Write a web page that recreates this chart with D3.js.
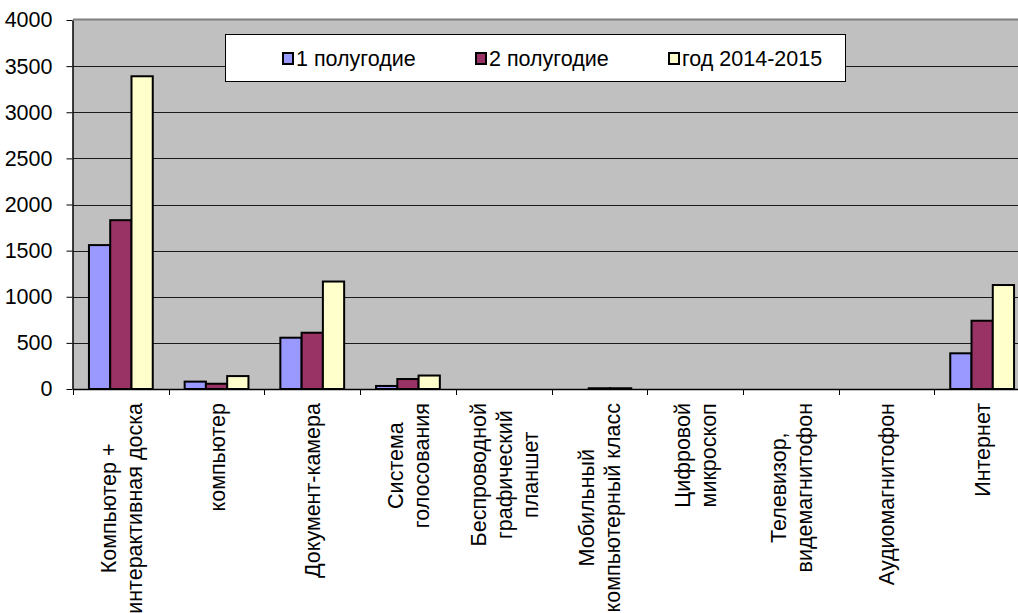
<!DOCTYPE html>
<html>
<head>
<meta charset="utf-8">
<style>
body { margin: 0; background: #fff; }
svg { display: block; font-family: "Liberation Sans", Arial, sans-serif; }
.grid line { stroke: #1a1a1a; stroke-width: 1; }
.axis path, .axis line { stroke: #000; }
.axis text { font-size: 21.5px; fill: #000; font-family: "Liberation Sans", Arial, sans-serif; }
</style>
</head>
<body>
<svg width="1018" height="613"></svg>
<script src="https://d3js.org/d3.v7.min.js"></script>
<script>

// categories (multi-line labels split by |)
var categories = [
  "Компьютер +|интерактивная доска",
  "компьютер",
  "Документ-камера",
  "Система|голосования",
  "Беспроводной|графический|планшет",
  "Мобильный|компьютерный класс",
  "Цифровой|микроскоп",
  "Телевизор,|видемагнитофон",
  "Аудиомагнитофон",
  "Интернет"
];

var seriesNames = ["1 полугодие", "2 полугодие", "год 2014-2015"];
var seriesColors = ["#9999ff", "#993366", "#ffffcc"];

var half1 = [1560, 80, 556, 33, 0, 0, 0, 0, 0, 387];
var half2 = [1830, 57, 610, 108, 0, 8, 0, 0, 0, 740];
var year = [3390, 140, 1165, 146, 0, 8, 0, 0, 0, 1127];

var yTicks = [0, 500, 1000, 1500, 2000, 2500, 3000, 3500, 4000];

var svg = d3.select("svg");
var plotLeft = 73, plotTop = 20, plotBottom = 389, plotRight = 1030;

var x = d3.scaleBand().domain(categories).range([plotLeft, plotRight]);
var w = x.bandwidth() / 4.5;
var xs = d3.scaleBand().domain(seriesNames).range([0.75 * w, 3.75 * w]);
var y = d3.scaleLinear().domain([0, 4000]).range([plotBottom, plotTop]);

// plot background
svg.append("rect")
  .attr("x", plotLeft).attr("y", plotTop)
  .attr("width", plotRight - plotLeft).attr("height", plotBottom - plotTop)
  .attr("fill", "#c0c0c0");
svg.append("line")
  .attr("x1", plotLeft).attr("x2", plotRight)
  .attr("y1", plotTop - 0.5).attr("y2", plotTop - 0.5)
  .attr("stroke", "#808080").attr("stroke-width", 2);

// gridlines
svg.append("g").attr("class", "grid")
  .selectAll("line")
  .data(yTicks.slice(1, -1))
  .enter().append("line")
    .attr("x1", plotLeft).attr("x2", plotRight)
    .attr("y1", function(d) { return Math.round(y(d)) + 0.5; })
    .attr("y2", function(d) { return Math.round(y(d)) + 0.5; });

// bars
var table = [half1, half2, year];
var bars = [];
table.forEach(function(vals, s) {
  vals.forEach(function(v, i) {
    if (v > 0) bars.push({cat: categories[i], s: s, v: v});
  });
});

svg.append("g")
  .selectAll("rect")
  .data(bars)
  .enter().append("rect")
    .attr("x", function(d) { return x(d.cat) + xs(seriesNames[d.s]); })
    .attr("y", function(d) { return y(d.v); })
    .attr("width", xs.bandwidth())
    .attr("height", function(d) { return plotBottom - y(d.v); })
    .attr("fill", function(d) { return seriesColors[d.s]; })
    .attr("stroke", "#000")
    .attr("stroke-width", 2);

// y axis
var yAxis = svg.append("g").attr("class", "axis")
  .attr("transform", "translate(" + (plotLeft - 0.5) + ",0)")
  .call(d3.axisLeft(y).tickValues(yTicks).tickFormat(d3.format("d"))
    .tickSize(6).tickPadding(14).tickSizeOuter(0));
yAxis.select(".domain").attr("stroke-width", 1.5);

// x axis line + ticks at category boundaries
svg.append("line")
  .attr("x1", plotLeft).attr("x2", plotRight)
  .attr("y1", plotBottom + 0.5).attr("y2", plotBottom + 0.5)
  .attr("stroke", "#000").attr("stroke-width", 1.5);

svg.append("g")
  .selectAll("line")
  .data(categories)
  .enter().append("line")
    .attr("x1", function(d) { return Math.round(x(d)) + 0.5; })
    .attr("x2", function(d) { return Math.round(x(d)) + 0.5; })
    .attr("y1", plotBottom).attr("y2", plotBottom + 6)
    .attr("stroke", "#000");

// category labels, rotated, top aligned, lines centred
var labelTop = 403, lineH = 26;
categories.forEach(function(c) {
  var lines = c.split("|");
  var cx = x(c) + x.bandwidth() / 2;
  var g = svg.append("g");
  var texts = lines.map(function(l) {
    return g.append("text")
      .attr("font-size", "21.5px")
      .attr("text-anchor", "middle")
      .text(l);
  });
  var maxW = d3.max(texts, function(t) { return t.node().getComputedTextLength(); });
  var cy = labelTop + maxW / 2;
  texts.forEach(function(t, k) {
    var off = (k - (lines.length - 1) / 2) * lineH;
    t.attr("transform", "translate(" + (cx + off + 8) + "," + cy + ") rotate(-90)");
  });
});

// legend
var lg = svg.append("g");
lg.append("rect")
  .attr("x", 225.5).attr("y", 34.5)
  .attr("width", 620).attr("height", 47)
  .attr("fill", "#fff").attr("stroke", "#000");

var legendX = d3.scalePoint().domain(seriesNames).range([282, 668]);
var item = lg.selectAll(".item")
  .data(seriesNames)
  .enter().append("g")
    .attr("transform", function(d) { return "translate(" + legendX(d) + ",52)"; });
item.append("rect")
  .attr("x", 1).attr("y", 1)
  .attr("width", 10).attr("height", 11)
  .attr("fill", function(d, i) { return seriesColors[i]; })
  .attr("stroke", "#000").attr("stroke-width", 2);
item.append("text")
  .attr("x", 14).attr("y", 14)
  .attr("font-size", "21.5px")
  .text(function(d) { return d; });

</script>
</body>
</html>
